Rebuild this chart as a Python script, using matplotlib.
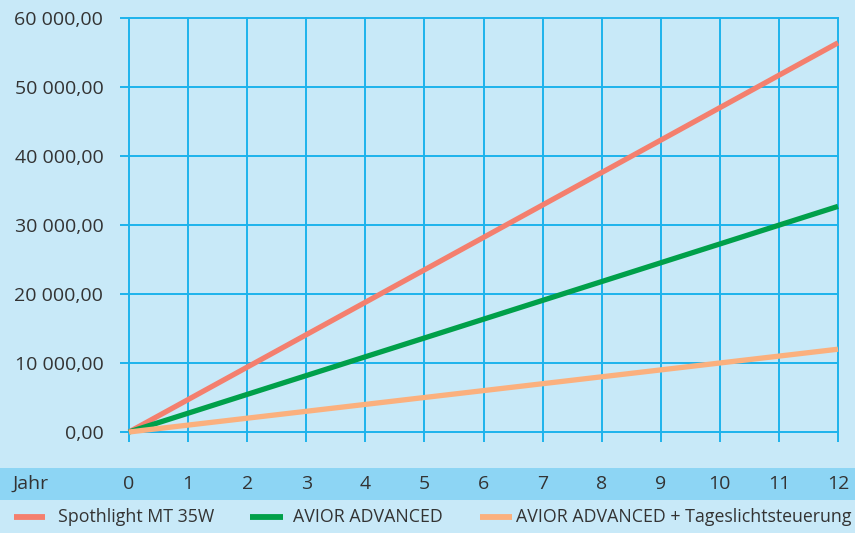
import matplotlib
matplotlib.use("Agg")
import matplotlib.pyplot as plt
from matplotlib.transforms import blended_transform_factory
from matplotlib.lines import Line2D
from matplotlib.patches import Rectangle

years = [0, 1, 2, 3, 4, 5, 6, 7, 8, 9, 10, 11, 12]
spotlight = [0, 4700, 9400, 14100, 18800, 23500, 28200, 32900, 37600, 42300, 47000, 51700, 56400]
avior = [0, 2725, 5450, 8175, 10900, 13625, 16350, 19075, 21800, 24525, 27250, 29975, 32700]
avior_daylight = [0, 1000, 2000, 3000, 4000, 5000, 6000, 7000, 8000, 9000, 10000, 11000, 12000]

series_names = ["Spothlight MT 35W", "AVIOR ADVANCED", "AVIOR ADVANCED + Tageslichtsteuerung"]
series_colors = ["#F47F6E", "#00A04A", "#FBB07E"]
y_ticks = [0, 10000, 20000, 30000, 40000, 50000, 60000]
x_label = "Jahr"

BG = "#C8E9F8"
BAND = "#8DD5F4"
GRID = "#1DB3EC"
TEXT = "#333333"
FS = 14
LEG_FS = 12.8

plt.rcParams["font.family"] = ["Open Sans", "DejaVu Sans"]

W, H = 855, 533
fig = plt.figure(figsize=(W / 100, H / 100), dpi=100)
fig.patch.set_facecolor(BG)

# axis-label band
fig.patches.append(Rectangle((0, 33 / H), 1, 32 / H, transform=fig.transFigure,
                             facecolor=BAND, edgecolor="none", zorder=-5))

ax = fig.add_axes([129 / W, 101 / H, (838 - 129) / W, (432 - 18) / H])
ax.set_facecolor(BG)
ax.set_xlim(0, 12)
ax.set_ylim(0, 60000)
for s in ax.spines.values():
    s.set_visible(False)

ax.set_xticks(years)
ax.set_yticks(y_ticks)
ax.grid(True, color=GRID, linewidth=1.4)
for gl in ax.get_xgridlines() + ax.get_ygridlines():
    gl.set_clip_on(False)
ax.set_axisbelow(True)

ax.tick_params(axis="x", length=7.5, width=1.4, color=GRID, labelbottom=False)
ax.tick_params(axis="y", length=6.5, width=1.4, color=GRID, labelsize=FS,
               labelcolor=TEXT, pad=12)


def fmt(v):
    return f"{v:,.2f}".replace(",", " ").replace(".", ",")


ax.set_yticklabels([fmt(v) for v in y_ticks])

for vals, col in zip([spotlight, avior, avior_daylight], series_colors):
    ax.plot(years, vals, color=col, linewidth=3.8, solid_capstyle="butt", clip_on=False, zorder=3)

# x tick labels inside the band
trans = blended_transform_factory(ax.transData, fig.transFigure)
band_y = 49 / H
for yr in years:
    ax.text(yr, band_y, str(yr), transform=trans, ha="center", va="center",
            fontsize=FS, color=TEXT, clip_on=False)
fig.text(12 / W, band_y, x_label, ha="left", va="center", fontsize=FS, color=TEXT)

# legend row: handle start/end and text start in pixels
leg_y = 16 / H
leg_slots = [(14, 45, 58), (250, 283, 293), (480, 512, 516)]
for name, col, (x0, x1, xt) in zip(series_names, series_colors, leg_slots):
    fig.add_artist(Line2D([x0 / W, x1 / W], [leg_y, leg_y], transform=fig.transFigure,
                          color=col, linewidth=4.2, solid_capstyle="butt"))
    fig.text(xt / W, leg_y, name, ha="left", va="center", fontsize=LEG_FS, color=TEXT)

fig.savefig("out.png", dpi=100, facecolor=BG)
